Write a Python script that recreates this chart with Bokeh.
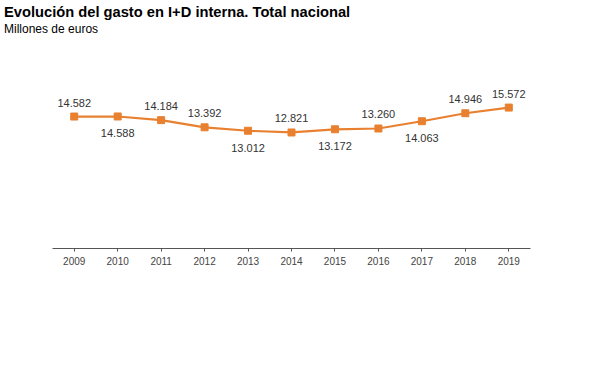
from bokeh.plotting import figure
from bokeh.models import ColumnDataSource, FactorRange, Range1d, Div
from bokeh.layouts import column
from bokeh.core.properties import value
from bokeh.embed import file_html
from bokeh.resources import INLINE

years = ["2009", "2010", "2011", "2012", "2013", "2014", "2015", "2016", "2017", "2018", "2019"]
gasto = [14582, 14588, 14184, 13392, 13012, 12821, 13172, 13260, 14063, 14946, 15572]
label_text = ["14.582", "14.588", "14.184", "13.392", "13.012", "12.821", "13.172", "13.260", "14.063", "14.946", "15.572"]
label_side = ["above", "below", "above", "above", "below", "above", "below", "above", "below", "above", "above"]

ORANGE = "#E8802F"
FONT = "Liberation Sans"

offsets = [-14 if s == "above" else 17 for s in label_side]
src = ColumnDataSource(dict(x=years, y=gasto, t=label_text, off=offsets))

header = Div(
    text=('<div style="margin:-1px 0 0 -1px; font-family:\'Liberation Sans\'; color:#000; line-height:1.2;">'
          '<div style="font-size:14.7px; font-weight:bold;">Evolución del gasto en I+D interna. Total nacional</div>'
          '<div style="font-size:12px;">Millones de euros</div></div>'),
    width=599, height=30)

p = figure(width=599, height=337, x_range=FactorRange(*years), y_range=Range1d(0, 20000),
           output_backend="svg", toolbar_location=None,
           min_border_left=52, min_border_right=69, min_border_top=27, min_border_bottom=129)
p.outline_line_color = None
p.grid.visible = False
p.yaxis.visible = False
p.background_fill_color = "white"

p.line("x", "y", source=src, line_color=ORANGE, line_width=2.2)
p.scatter("x", "y", source=src, marker="square", size=7, fill_color=ORANGE, line_color=ORANGE)
p.text("x", "y", text="t", source=src, y_offset="off", text_align="center", text_baseline="middle",
       text_font=value(FONT), text_font_size="11px", text_color="#333333")

ax = p.xaxis[0]
ax.axis_line_color = "#555555"
ax.major_tick_line_color = "#555555"
ax.major_tick_in = 0
ax.major_tick_out = 3
ax.minor_tick_line_color = None
ax.major_label_text_font = FONT
ax.major_label_text_font_size = "10px"
ax.major_label_text_color = "#444444"
ax.major_label_standoff = 5

layout = column(header, p, spacing=0)
open("out.html", "w").write(file_html(layout, INLINE))
